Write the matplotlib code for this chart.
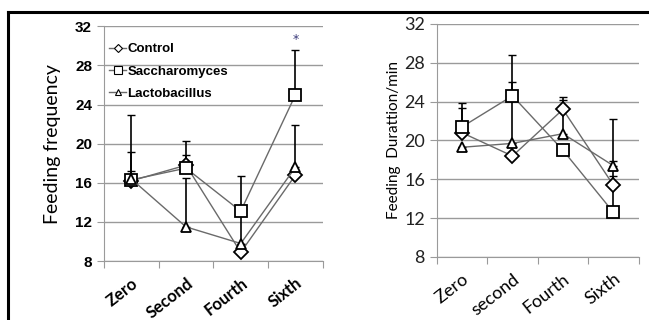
import matplotlib
matplotlib.use('Agg')
import matplotlib.pyplot as plt
from matplotlib.lines import Line2D
import numpy as np

weeks_left = ['Zero', 'Second', 'Fourth', 'Sixth']
weeks_right = ['Zero', 'second', 'Fourth', 'Sixth']
series = ['Control', 'Saccharomyces', 'Lactobacillus']

# feeding frequency
freq_control = [16.2, 17.8, 8.9, 16.8]
freq_sacch = [16.3, 17.5, 13.1, 25.0]
freq_lacto = [16.4, 11.5, 9.8, 17.6]
freq_control_err = [6.7, 2.5, 7.8, 0.0]
freq_sacch_err = [2.8, 1.3, 0.0, 4.6]
freq_lacto_err = [0.8, 5.0, 0.0, 4.3]

# feeding duration
dur_control = [20.8, 18.4, 23.2, 15.4]
dur_sacch = [21.4, 24.6, 19.0, 12.6]
dur_lacto = [19.3, 19.7, 20.7, 17.4]
dur_control_err = [2.5, 7.6, 1.3, 0.9]
dur_sacch_err = [2.5, 4.2, 0.0, 9.6]
dur_lacto_err = [0.0, 0.0, 3.5, 0.5]

markers = ['D', 's', '^']
msizes = [7, 8.5, 6.5]
line_color = '#6a6a6a'
grid_color = '#9a9a9a'

fig = plt.figure(figsize=(6.49, 3.2), dpi=100)
ax1 = fig.add_axes([0.160, 0.184, 0.3375, 0.734])
ax2 = fig.add_axes([0.673, 0.197, 0.311, 0.728])


def draw_panel(ax, vals, errs):
    x = np.arange(4)
    for v, e, m, ms, lab in zip(vals, errs, markers, msizes, series):
        ax.errorbar(x, v, yerr=[np.zeros(4), e], fmt='none', ecolor='black',
                    elinewidth=1.2, capsize=3, capthick=1, zorder=2)
        ax.plot(x, v, color=line_color, lw=1, marker=m, ms=ms,
                mfc='white', mec='black', mew=1.3, label=lab, zorder=3)
    ax.set_xlim(-0.5, 3.5)
    ax.set_ylim(8, 32)
    ax.set_yticks(range(8, 33, 4))
    ax.grid(axis='y', color=grid_color, lw=1)
    ax.set_axisbelow(True)
    for s in ['top', 'right']:
        ax.spines[s].set_visible(False)
    for s in ['left', 'bottom']:
        ax.spines[s].set_color(grid_color)
    ax.set_xticks(np.arange(-0.5, 4, 1))
    ax.set_xticklabels([])
    ax.tick_params(axis='x', which='major', direction='out', length=5,
                   color=grid_color)
    ax.tick_params(axis='y', length=5, color=grid_color)
    ax.set_xticks(x, minor=True)
    ax.tick_params(axis='x', which='minor', length=0, pad=10)


draw_panel(ax1, [freq_control, freq_sacch, freq_lacto],
           [freq_control_err, freq_sacch_err, freq_lacto_err])
draw_panel(ax2, [dur_control, dur_sacch, dur_lacto],
           [dur_control_err, dur_sacch_err, dur_lacto_err])

# left panel text
ax1.set_xticklabels(weeks_left, minor=True, rotation=38, ha='right',
                    rotation_mode='anchor', fontsize=12, fontweight='bold',
                    family=['Lato', 'DejaVu Sans'])
for t in ax1.get_yticklabels():
    t.set_fontweight('bold')
    t.set_fontsize(11)
    t.set_family(['Liberation Sans', 'DejaVu Sans'])
ax1.set_ylabel('Feeding frequency', fontsize=14,
               family=['Liberation Sans Narrow', 'Lato', 'DejaVu Sans'],
               labelpad=10)
ax1.text(3, 30.6, '*', ha='center', va='center', fontsize=9, color='#3a3a7a')
leg = ax1.legend(loc='upper left', frameon=False, handlelength=1.3,
                 handletextpad=0.1, labelspacing=0.75, borderaxespad=0.0,
                 bbox_to_anchor=(0.0, 0.95),
                 prop={'family': ['Liberation Sans', 'DejaVu Sans'],
                       'weight': 'bold', 'size': 9.5}, markerscale=0.6)
for h in leg.legend_handles:
    h.set_markeredgewidth(0.8)

# right panel text
ax2.set_xticklabels(weeks_right, minor=True, rotation=38, ha='right',
                    rotation_mode='anchor', fontsize=13,
                    family=['Lato', 'DejaVu Sans'])
for t in ax2.get_yticklabels():
    t.set_fontsize(13)
    t.set_family(['Lato', 'DejaVu Sans'])
    t.set_color('#222222')
ax2.set_ylabel('Feeding  Durattion/min', fontsize=11,
               family=['Lato', 'DejaVu Sans'], labelpad=2)

# outer black frame
fig.add_artist(Line2D([8 / 649, 1.0], [1 - 12 / 320, 1 - 12 / 320],
                      color='black', lw=2.2))
fig.add_artist(Line2D([8 / 649, 8 / 649], [0.0, 1 - 12 / 320],
                      color='black', lw=2.2))

fig.savefig('out.png', dpi=100)
